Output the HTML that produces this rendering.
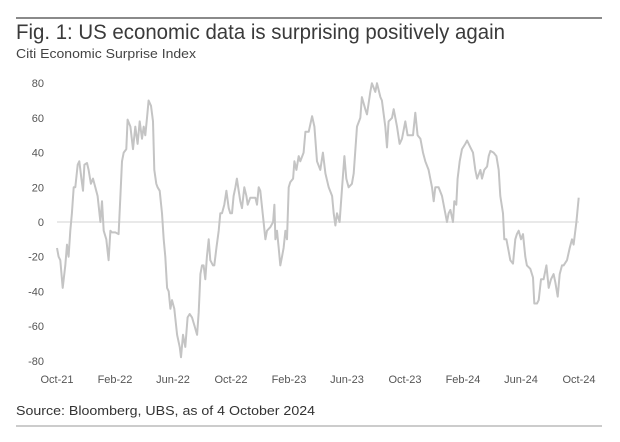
<!DOCTYPE html>
<html><head><meta charset="utf-8"><style>
body{margin:0;background:#fff;width:620px;height:437px;overflow:hidden;font-family:"Liberation Sans",sans-serif}
</style></head><body>
<svg width="620" height="437" xmlns="http://www.w3.org/2000/svg">
<line x1="16" y1="18" x2="602" y2="18" stroke="#444" stroke-width="1.2"/>
<text x="16" y="39" font-size="21" fill="#3a3a3a" textLength="489" lengthAdjust="spacingAndGlyphs">Fig. 1: US economic data is surprising positively again</text>
<text x="16" y="58" font-size="12.5" fill="#444" textLength="180" lengthAdjust="spacingAndGlyphs">Citi Economic Surprise Index</text>
<g id="yaxis"></g>
<g id="xaxis"></g>
<line id="zero" stroke="#dcdcdc" stroke-width="1.2"/>
<path id="series" fill="none" stroke="#c4c4c4" stroke-width="2" stroke-linejoin="round"/>
<text x="16" y="415" font-size="13" fill="#333" textLength="299" lengthAdjust="spacingAndGlyphs">Source: Bloomberg, UBS, as of 4 October 2024</text>
<line x1="16" y1="426" x2="602" y2="426" stroke="#999" stroke-width="1"/>
</svg>
<script>
const yTicks=[80,60,40,20,0,-20,-40,-60,-80];
const xTickLabels=["Oct-21","Feb-22","Jun-22","Oct-22","Feb-23","Jun-23","Oct-23","Feb-24","Jun-24","Oct-24"];
const xTickMonths=[0,4,8,12,16,20,24,28,32,36];
const months=[0,.11,.23,.39,.57,.69,.8,.92,1.03,1.15,1.26,1.43,1.54,1.68,1.79,1.89,2.07,2.18,2.34,2.48,2.64,2.8,2.99,3.1,3.22,3.4,3.56,3.68,3.79,4.02,4.25,4.37,4.48,4.6,4.78,4.87,5.06,5.24,5.4,5.56,5.7,5.86,5.98,6.09,6.21,6.32,6.48,6.62,6.71,6.85,6.94,7.08,7.24,7.36,7.47,7.59,7.7,7.82,7.93,8.09,8.28,8.46,8.55,8.69,8.85,9.01,9.15,9.31,9.49,9.66,9.77,9.89,10,10.11,10.23,10.34,10.46,10.57,10.76,10.85,10.99,11.15,11.26,11.38,11.54,11.68,11.84,11.95,12.07,12.18,12.3,12.41,12.53,12.64,12.76,12.92,13.06,13.15,13.33,13.56,13.68,13.79,13.91,14.02,14.25,14.37,14.48,14.71,14.9,14.99,15.06,15.17,15.29,15.4,15.52,15.63,15.75,15.86,15.98,16.09,16.28,16.37,16.51,16.67,16.78,17.01,17.13,17.36,17.59,17.75,17.93,18.16,18.34,18.51,18.74,18.97,19.08,19.2,19.31,19.49,19.66,19.82,19.95,20.11,20.34,20.46,20.69,20.92,21.03,21.26,21.38,21.61,21.72,21.95,22.07,22.3,22.41,22.64,22.76,22.87,23.1,23.22,23.45,23.63,23.79,24.02,24.18,24.37,24.55,24.71,24.87,25.06,25.24,25.4,25.63,25.86,25.98,26.09,26.32,26.55,26.78,26.9,27.01,27.13,27.31,27.4,27.54,27.63,27.77,27.93,28.16,28.28,28.51,28.69,28.85,28.97,29.2,29.31,29.47,29.66,29.77,29.89,30.11,30.3,30.46,30.57,30.76,30.85,30.99,31.15,31.26,31.45,31.61,31.72,31.84,32,32.14,32.3,32.41,32.64,32.83,32.92,33.1,33.22,33.38,33.56,33.75,33.91,34.07,34.25,34.37,34.53,34.67,34.83,34.94,35.17,35.36,35.52,35.63,35.82,35.98];
const values=[-15,-20,-22,-38,-25,-13,-20,-5,5,20,20,33,35,25,18,33,34,30,22,25,20,15,0,12,-5,-10,-22,-5,-6,-6,-7,15,35,40,42,59,55,42,55,45,58,48,55,50,60,70,67,58,30,22,20,18,5,-10,-20,-38,-40,-50,-45,-50,-65,-72,-78,-65,-72,-55,-53,-55,-60,-65,-52,-30,-25,-25,-33,-20,-10,-22,-25,-25,-15,-5,5,5,10,18,8,5,5,15,20,25,18,12,8,20,15,10,14,14,14,10,20,18,0,-10,-5,-3,0,10,-10,-5,-15,-25,-20,-15,-5,-10,20,23,25,35,30,38,35,40,52,52,61,55,35,30,40,28,20,15,5,-2,5,0,20,38,25,20,22,28,55,60,72,65,62,75,80,75,80,72,70,55,43,58,60,65,55,45,48,58,50,50,50,63,50,48,40,35,30,20,12,20,20,15,5,0,5,7,0,12,10,25,35,42,45,47,43,40,30,25,30,25,30,32,38,41,40,38,30,15,5,-10,-10,-17,-22,-24,-10,-7,-5,-10,-7,-20,-25,-27,-32,-47,-47,-45,-33,-33,-25,-38,-33,-30,-35,-43,-30,-25,-25,-22,-15,-10,-13,0,14];
const NS="http://www.w3.org/2000/svg";
const x=m=>57+m*14.5;
const y=v=>222-v*1.735;
const ya=document.getElementById('yaxis');
yTicks.forEach(t=>{const e=document.createElementNS(NS,'text');


e.setAttribute('x',44);e.setAttribute('y',y(t)+4);e.setAttribute('text-anchor','end');e.setAttribute('font-size','11');e.setAttribute('fill','#555');e.textContent=t;ya.appendChild(e);});
const xa=document.getElementById('xaxis');
xTickLabels.forEach((l,i)=>{const e=document.createElementNS(NS,'text');


e.setAttribute('x',x(xTickMonths[i]));e.setAttribute('y',383);e.setAttribute('text-anchor','middle');e.setAttribute('font-size','11');e.setAttribute('fill','#555');e.textContent=l;xa.appendChild(e);});
const z=document.getElementById('zero');
z.setAttribute('x1',x(0));z.setAttribute('x2',x(36));z.setAttribute('y1',y(0));z.setAttribute('y2',y(0));
document.getElementById('series').setAttribute('d',months.map((m,i)=>(i?'L':'M')+x(m).toFixed(1)+' '+y(values[i]).toFixed(1)).join(''));
</script>
</body></html>
